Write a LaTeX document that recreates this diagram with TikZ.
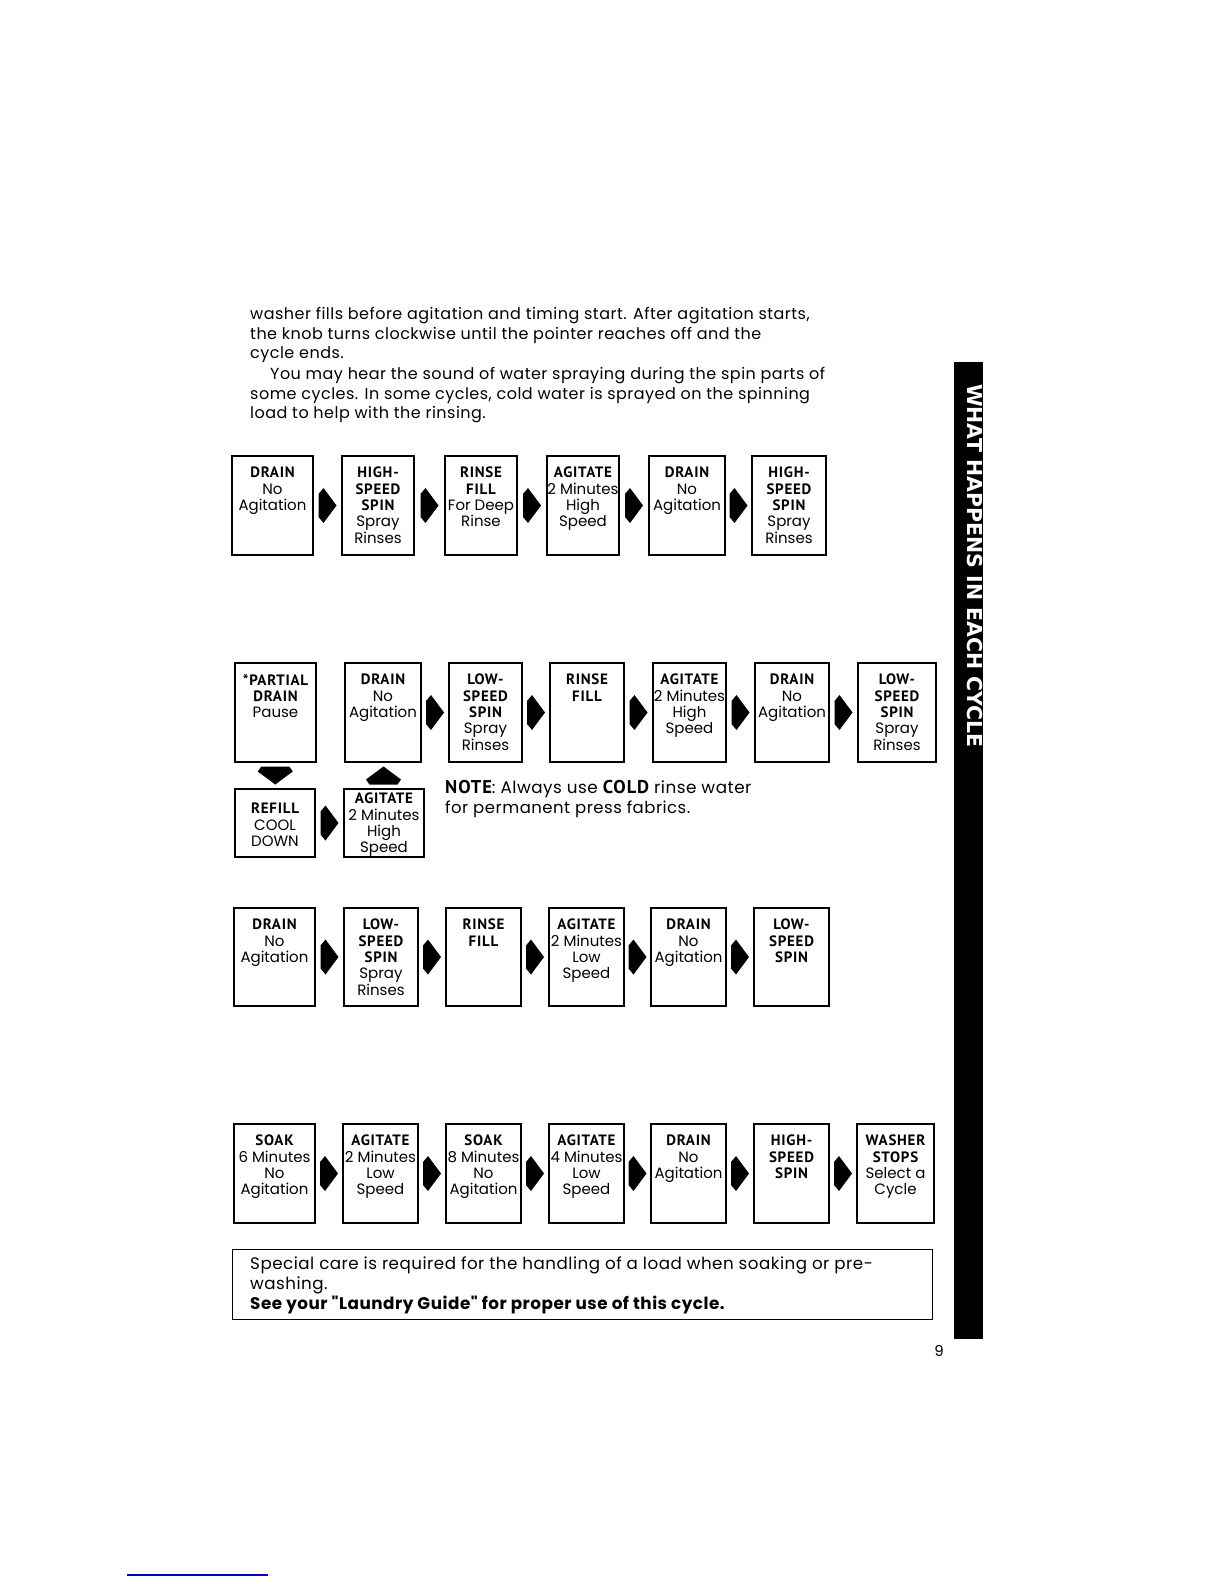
\documentclass[tikz,border=0pt]{standalone}
\usepackage{fontspec}
\setmainfont{Poppins}
\newfontfamily\bodyfont{Poppins}[LetterSpace=3]
\newfontfamily\hdfont{PT Sans}[LetterSpace=5]
\newfontfamily\sidefont{DejaVu Sans}
\usetikzlibrary{calc}
\definecolor{lnk}{RGB}{0,0,205}
\newcommand\hh[1]{{\hdfont\bfseries #1}}
\newcommand\qq{\symbol{34}}
\newcommand\bx[6][12]{%
  \node[boxst,minimum width=#4pt,minimum height=#5pt] (#2) at (#3) {};
  \node[txt,anchor=north] (#2t) at ([yshift=-#1pt]#2.north) {#6};}
\newcommand\rarr[2]{%
  \fill ($(#1.east)!0.5!(#2.west)$) ++(-9,-11.5) -- ++(5,-6) -- ++(13,17.5) -- ++(-13,17.5) -- ++(-5,-6) -- cycle;}
\newcommand\darr[2]{%
  \fill ($(#1.south)!0.5!(#2.north)$) ++(-14,-9) -- ++(28,0) -- ++(3.5,5) -- ++(-17.5,13) -- ++(-17.5,-13) -- cycle;}
\newcommand\uarr[2]{%
  \fill ($(#1.north)!0.5!(#2.south)$) ++(-14,9) -- ++(28,0) -- ++(3.5,-5) -- ++(-17.5,-13) -- ++(-17.5,13) -- cycle;}
\begin{document}
\begin{tikzpicture}[x=1pt,y=-1pt,
  boxst/.style={draw=black,line width=2pt,inner sep=0pt},
  txt/.style={align=center,inner sep=0pt,font=\fontsize{15}{16.3}\selectfont},
  body/.style={anchor=base west,inner sep=0pt,font=\bodyfont\fontsize{16}{18}\selectfont}]
\fill[white] (0,0) rectangle (1224,1584);
\useasboundingbox (0,0) rectangle (1224,1584);

% introductory paragraph
\node[body] (p1) at (250,319) {washer fills before agitation and timing start. After agitation starts,};
\node[body] (p2) at (250,339) {the knob turns clockwise until the pointer reaches off and the};
\node[body] (p3) at (250,358) {cycle ends.};
\node[body] (p4) at (270,379) {You may hear the sound of water spraying during the spin parts of};
\node[body] (p5) at (250,399) {some cycles. In some cycles, cold water is sprayed on the spinning};
\node[body] (p6) at (250,418) {load to help with the rinsing.};

% row 1
\bx{b1a}{272.5,505.5}{81}{99}{\hh{DRAIN}\\No\\Agitation}
\bx{b1b}{378,505.5}{72}{99}{\hh{HIGH-}\\\hh{SPEED}\\\hh{SPIN}\\Spray\\Rinses}
\bx{b1c}{481,505.5}{72}{99}{\hh{RINSE}\\\hh{FILL}\\For Deep\\Rinse}
\bx{b1d}{583,505.5}{72}{99}{\hh{AGITATE}\\2 Minutes\\High\\Speed}
\bx{b1e}{687,505.5}{76}{99}{\hh{DRAIN}\\No\\Agitation}
\bx{b1f}{789,505.5}{74}{99}{\hh{HIGH-}\\\hh{SPEED}\\\hh{SPIN}\\Spray\\Rinses}
\rarr{b1a}{b1b}\rarr{b1b}{b1c}\rarr{b1c}{b1d}\rarr{b1d}{b1e}\rarr{b1e}{b1f}

% row 2
\bx{b2a}{275.5,712.5}{81}{99}{\hh{*PARTIAL}\\\hh{DRAIN}\\Pause}
\bx{b2b}{383,712.5}{76}{99}{\hh{DRAIN}\\No\\Agitation}
\bx{b2c}{485.5,712.5}{73}{99}{\hh{LOW-}\\\hh{SPEED}\\\hh{SPIN}\\Spray\\Rinses}
\bx{b2d}{587,712.5}{74}{99}{\hh{RINSE}\\\hh{FILL}}
\bx{b2e}{689.5,712.5}{73}{99}{\hh{AGITATE}\\2 Minutes\\High\\Speed}
\bx{b2f}{792,712.5}{74}{99}{\hh{DRAIN}\\No\\Agitation}
\bx{b2g}{897,712.5}{78}{99}{\hh{LOW-}\\\hh{SPEED}\\\hh{SPIN}\\Spray\\Rinses}
\bx[15]{b2h}{275,823}{80}{68}{\hh{REFILL}\\COOL\\DOWN}
\bx[5]{b2i}{384,823}{80}{68}{\hh{AGITATE}\\2 Minutes\\High\\Speed}
\darr{b2a}{b2h}
\rarr{b2h}{b2i}
\uarr{b2i}{b2b}
\rarr{b2b}{b2c}\rarr{b2c}{b2d}\rarr{b2d}{b2e}\rarr{b2e}{b2f}\rarr{b2f}{b2g}
\node[body,font=\bodyfont\fontsize{16.8}{18}\selectfont] (n1) at (445,793) {{\fontsize{18.5}{18}\selectfont\hh{NOTE}}: Always use {\fontsize{18.5}{18}\selectfont\hh{COLD}} rinse water};
\node[body,font=\bodyfont\fontsize{16.5}{18}\selectfont] (n2) at (445,813) {for permanent press fabrics.};

% row 3
\bx{b3a}{274.5,957}{81}{98}{\hh{DRAIN}\\No\\Agitation}
\bx{b3b}{381,957}{74}{98}{\hh{LOW-}\\\hh{SPEED}\\\hh{SPIN}\\Spray\\Rinses}
\bx{b3c}{483.5,957}{75}{98}{\hh{RINSE}\\\hh{FILL}}
\bx{b3d}{586.5,957}{75}{98}{\hh{AGITATE}\\2 Minutes\\Low\\Speed}
\bx{b3e}{688.5,957}{75}{98}{\hh{DRAIN}\\No\\Agitation}
\bx{b3f}{791.5,957}{75}{98}{\hh{LOW-}\\\hh{SPEED}\\\hh{SPIN}}
\rarr{b3a}{b3b}\rarr{b3b}{b3c}\rarr{b3c}{b3d}\rarr{b3d}{b3e}\rarr{b3e}{b3f}

% row 4
\bx{b4a}{274.5,1173.5}{81}{99}{\hh{SOAK}\\6 Minutes\\No\\Agitation}
\bx{b4b}{380.5,1173.5}{75}{99}{\hh{AGITATE}\\2 Minutes\\Low\\Speed}
\bx{b4c}{483.5,1173.5}{75}{99}{\hh{SOAK}\\8 Minutes\\No\\Agitation}
\bx{b4d}{586.5,1173.5}{75}{99}{\hh{AGITATE}\\4 Minutes\\Low\\Speed}
\bx{b4e}{688.5,1173.5}{75}{99}{\hh{DRAIN}\\No\\Agitation}
\bx{b4f}{791.5,1173.5}{75}{99}{\hh{HIGH-}\\\hh{SPEED}\\\hh{SPIN}}
\bx{b4g}{895.5,1173.5}{77}{99}{\hh{WASHER}\\\hh{STOPS}\\Select a\\Cycle}
\rarr{b4a}{b4b}\rarr{b4b}{b4c}\rarr{b4c}{b4d}\rarr{b4d}{b4e}\rarr{b4e}{b4f}\rarr{b4f}{b4g}

% special care note
\node[boxst,line width=1.6pt,minimum width=700pt,minimum height=70pt] (note) at (582.5,1284.5) {};
\node[body,font=\bodyfont\fontsize{16.7}{20}\selectfont] (s1) at (250,1269) {Special care is required for the handling of a load when soaking or pre-};
\node[body,font=\bodyfont\fontsize{16.7}{20}\selectfont] (s2) at (250,1289) {washing.};
\node[body,font=\bodyfont\fontsize{16.8}{20}\selectfont\bfseries] (s3) at (250,1309) {See your \qq Laundry Guide\qq\ for proper use of this cycle.};

% side tab
\node[fill=black,inner sep=0pt,minimum width=29pt,minimum height=977pt] (side) at (968.5,850.5) {};
\node[inner sep=0pt,rotate=-90,text=white,font=\sidefont\bfseries\fontsize{20.5}{20}\selectfont] (sidet) at (975,566) {WHAT HAPPENS IN EACH CYCLE};

% page number and rule
\node[inner sep=0pt,font=\fontsize{15}{15}\selectfont] (pg) at (939,1351) {9};
\draw[lnk,line width=1.2pt] (127,1575) -- (268,1575);
\end{tikzpicture}
\end{document}
